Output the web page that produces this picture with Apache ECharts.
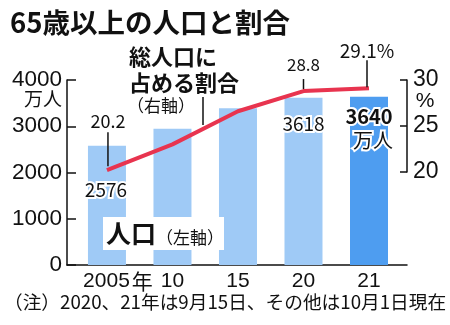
<!DOCTYPE html>
<html><head><meta charset="utf-8">
<script src="https://cdn.jsdelivr.net/npm/echarts@6/dist/echarts.min.js"></script>
<style>html,body{margin:0;padding:0;background:#fff}#c{width:450px;height:325px}</style>
</head><body><div id="c"></div>
<script>
// ---- data ----
const categories = ['2005', '10', '15', '20', '21'];
const population = [2576, 2948, 3387, 3618, 3640];   // 万人 (left axis)
const ratio = [20.2, 23.0, 26.6, 28.8, 29.1];        // % (right axis)
const leftTicks = [0, 1000, 2000, 3000, 4000];
const rightTicks = [20, 25, 30];
const title = '65歳以上の人口と割合';
const note = '（注）2020、21年は9月15日、その他は10月1日現在';

const F = '"Noto Sans CJK JP", "Noto Sans", sans-serif';
const FN = '"Liberation Sans", "Noto Sans CJK JP", sans-serif';
const BLACK = '#111';
const chart = echarts.init(document.getElementById('c'), null, {renderer: 'canvas'});

const xRange = {min: -0.61, max: 4.58};
chart.setOption({
  animation: false,
  backgroundColor: '#fff',
  grid: [
    {left: 67, right: 43, top: 80, bottom: 60},
    {left: 67, right: 43, top: 80, height: 92}
  ],
  xAxis: [
    {type: 'value', gridIndex: 0, min: xRange.min, max: xRange.max,
      axisLine: {show: true, onZero: false, lineStyle: {color: BLACK, width: 1.5}},
      axisTick: {show: false}, splitLine: {show: false},
      axisLabel: {customValues: categories.map((c, i) => i), color: BLACK, fontFamily: FN, fontSize: 21, margin: 6,
        formatter: v => v === 0 ? '{p|}' + categories[0] + '{y|年}' : categories[v],
        rich: {p: {width: 22}, y: {fontFamily: F, fontSize: 21, color: BLACK, padding: [0, 0, 0, 2]}}}},
    {type: 'value', gridIndex: 1, min: xRange.min, max: xRange.max, show: false}
  ],
  yAxis: [
    {type: 'value', gridIndex: 0, min: leftTicks[0], max: leftTicks[leftTicks.length - 1], interval: 1000,
      axisLine: {show: true, onZero: false, lineStyle: {color: BLACK, width: 1.5}},
      axisTick: {show: true, inside: true, length: 9, lineStyle: {color: BLACK, width: 1.5}},
      splitLine: {show: false},
      axisLabel: {color: BLACK, fontFamily: FN, fontSize: 22.5, margin: 5, formatter: v => String(v)}},
    {type: 'value', gridIndex: 1, position: 'right', min: rightTicks[0], max: rightTicks[rightTicks.length - 1], interval: 5,
      axisLine: {show: true, onZero: false, lineStyle: {color: BLACK, width: 1.5}},
      axisTick: {show: true, inside: true, length: 7, lineStyle: {color: BLACK, width: 1.5}},
      splitLine: {show: false},
      axisLabel: {color: BLACK, fontFamily: FN, fontSize: 23, margin: 6, formatter: v => String(v)}}
  ],
  series: [
    {type: 'bar', xAxisIndex: 0, yAxisIndex: 0, barWidth: 38, z: 2,
      data: population.map((v, i) => ({value: [i, v],
        itemStyle: {color: i === population.length - 1 ? '#4e9df0' : '#9fcaf6'}}))},
    {type: 'line', xAxisIndex: 1, yAxisIndex: 1, z: 5, symbol: 'none',
      lineStyle: {color: '#e8344f', width: 4},
      data: ratio.map((v, i) => [i, v])}
  ]
});

const P = i => chart.convertToPixel({gridIndex: 0}, [i, population[i]]);
const Q = i => chart.convertToPixel({gridIndex: 1}, [i, ratio[i]]);
const n = population.length - 1;

function txt(x, y, text, size, opts) {
  return {type: 'text', z: 100, x: x, y: y,
    style: Object.assign({text: text, fill: BLACK, font: (opts && opts.weight || 'normal') + ' ' + size + 'px ' + ((opts && opts.family) || F),
      align: 'center', verticalAlign: 'middle'}, opts && opts.style)};
}
function vline(x, y1, y2) {
  return {type: 'line', z: 100, shape: {x1: x, y1: y1, x2: x, y2: y2}, style: {stroke: BLACK, lineWidth: 1.5}};
}
const outline = {stroke: '#fff', lineWidth: 4};

const q0 = Q(0), q3 = Q(3), q4 = Q(n), p0 = P(0), p3 = P(3), p4 = P(n);
const g = [
  txt(10, 23, title, 27.5, {weight: 'bold', style: {align: 'left'}}),
  // left unit
  txt(62, 99, '万人', 19, {style: {align: 'right'}}),
  // right unit
  txt(425, 101, '%', 21, {family: FN}),
  // annotation for line
  txt(129, 57, '総人口に', 22, {weight: 'bold', style: {align: 'left'}}),
  txt(129, 83, '占める割合', 22, {weight: 'bold', style: {align: 'left'}}),
  txt(161, 106, '（右軸）', 17),
  vline(203, 97, 125),
  // annotation for bars
  {type: 'text', z: 100, x: 103, y: 217, style: {
    text: '{a|人口}{b|（左軸）}', backgroundColor: '#fff', padding: [4, 0, 4, 3],
    rich: {a: {font: 'bold 25px ' + F, fill: BLACK, verticalAlign: 'bottom'}, b: {font: 'normal 17px ' + F, fill: BLACK, verticalAlign: 'bottom'}}}},
  // line value labels
  txt(q0[0] + 1, q0[1] - 49, ratio[0].toFixed(1), 18),
  vline(q0[0] + 1, q0[1] - 38, q0[1] - 4),
  txt(q3[0], q3[1] - 26, ratio[3].toFixed(1), 17),
  vline(q3[0], q3[1] - 12, q3[1] - 2),
  txt(q4[0] - 2, q4[1] - 37, ratio[n].toFixed(1) + '%', 19),
  vline(q4[0] - 2, q4[1] - 28, q4[1] - 1),
  // bar value labels
  txt(p0[0] - 1, p0[1] + 44, String(population[0]), 19, {style: outline}),
  txt(p3[0], p3[1] + 26.5, String(population[3]), 19, {style: outline}),
  txt(p4[0], p4[1] + 20, String(population[n]), 20, {weight: 'bold', style: outline}),
  txt(p4[0] + 4, p4[1] + 44, '万人', 20, {style: outline}),
  // note
  txt(4, 302, note, 18.7, {style: {align: 'left'}})
];
chart.setOption({graphic: {elements: g}});
</script></body></html>
